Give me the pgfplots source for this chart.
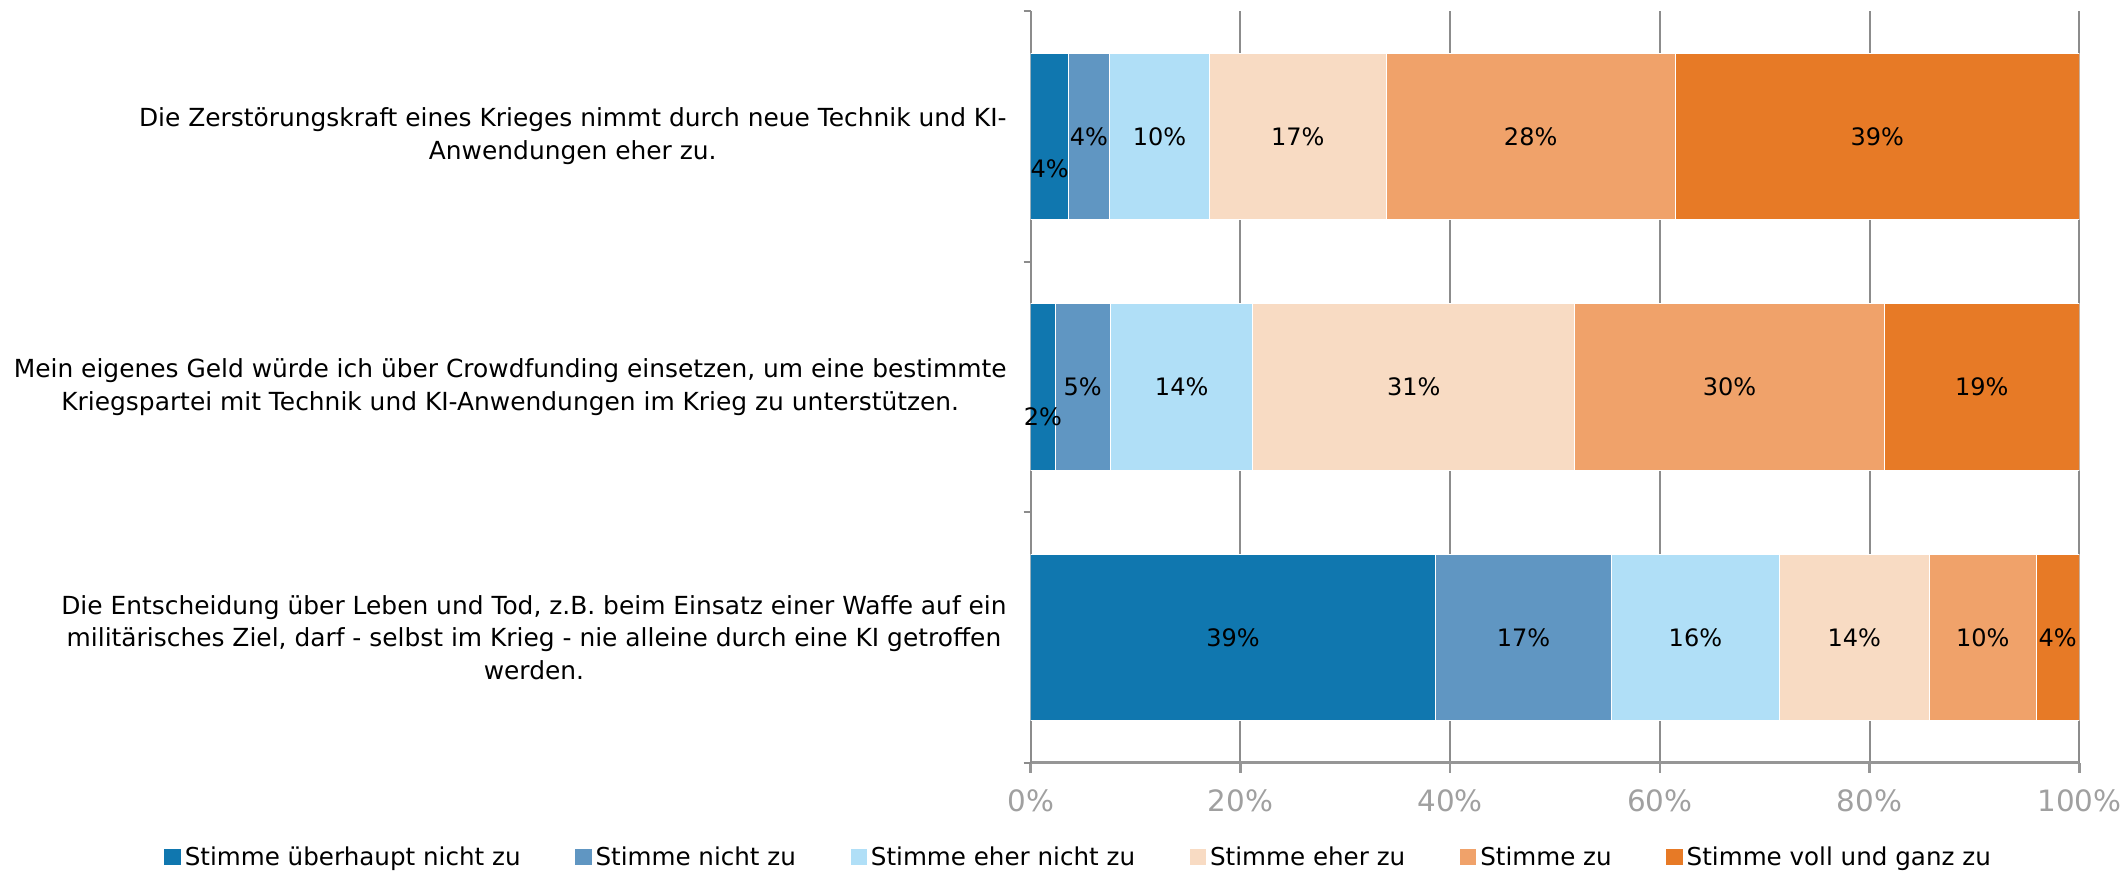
\documentclass[border=0pt]{standalone}
\usepackage{fontspec}
\setmainfont{DejaVu Sans}
\usepackage{pgfplots}
\usepackage{pgfplotstable}
\pgfplotsset{compat=1.18}
\definecolor{cA}{RGB}{16,119,175}
\definecolor{cB}{RGB}{96,150,194}
\definecolor{cC}{RGB}{176,223,247}
\definecolor{cD}{RGB}{248,219,195}
\definecolor{cE}{RGB}{240,162,106}
\definecolor{cF}{RGB}{231,122,38}
\definecolor{gridgray}{RGB}{140,140,140}
\definecolor{axgray}{RGB}{150,150,150}
\definecolor{tickgray}{RGB}{160,160,160}

\pgfplotstableread{
y x dy
2 3.64 -16
1 2.33 -15
0 38.6 0
}\sA
\pgfplotstableread{
y x dy
2 3.84 0
1 5.28 0
0 16.8 0
}\sB
\pgfplotstableread{
y x dy
2 9.6 0
1 13.58 0
0 15.98 0
}\sC
\pgfplotstableread{
y x dy
2 16.8 0
1 30.67 0
0 14.33 0
}\sD
\pgfplotstableread{
y x dy
2 27.6 0
1 29.55 0
0 10.15 0
}\sE
\pgfplotstableread{
y x dy
2 38.52 0
1 18.59 0
0 4.14 0
}\sF

\pgfplotsset{
  seglabels/.style={
    point meta=explicit,
    visualization depends on={\thisrow{dy} \as \ldy},
    nodes near coords={\pgfmathprintnumber[fixed,precision=0]{\pgfplotspointmeta}\%},
    every node near coord/.append style={anchor=center, text=black,
      font=\fontsize{12}{14}\selectfont, yshift={\ldy*1pt}},
  },
}

\begin{document}
\begin{tikzpicture}
\begin{axis}[
  scale only axis, width=524.5pt, height=376pt,
  xbar stacked, bar width=0.663,
  xmin=0, xmax=100, ymin=-0.5, ymax=2.5,
  axis lines=left, axis line style={-},
  x axis line style={draw=axgray, line width=1.3pt},
  y axis line style={draw=gridgray, line width=1pt},
  tick align=outside,
  major tick length=5pt, minor tick length=3.5pt,
  xtick={0,20,40,60,80,100},
  xticklabels={0\%,20\%,40\%,60\%,80\%,100\%},
  xtick style={draw=axgray, line width=1.3pt},
  xmajorgrids, grid style={draw=gridgray, line width=1pt},
  ytick={0,1,2},
  yticklabels={{Die Entscheidung über Leben und Tod, z.B. beim Einsatz einer Waffe auf ein\\militärisches Ziel, darf - selbst im Krieg - nie alleine durch eine KI getroffen\\werden.},
    {Mein eigenes Geld würde ich über Crowdfunding einsetzen, um eine bestimmte\\Kriegspartei mit Technik und KI-Anwendungen im Krieg zu unterstützen.},
    {Die Zerstörungskraft eines Krieges nimmt durch neue Technik und KI-\\Anwendungen eher zu.}},
  minor ytick={-0.5,0.5,1.5,2.5},
  major y tick style={draw=none},
  minor y tick style={draw=gridgray, line width=1pt},
  xticklabel style={font=\fontsize{14.7}{17}\selectfont, text=tickgray, yshift=-5pt},
  yticklabel style={font=\fontsize{12.45}{16.35}\selectfont, align=center, text=black, xshift=-3.5pt},
  /pgf/number format/assume math mode=true,
  legend columns=6,
  legend style={draw=none, fill=none, at={(0.0467,-0.126)}, anchor=center,
    font=\fontsize{12.3}{15}\selectfont,
    /tikz/every even column/.append style={column sep=25.3pt}},
  legend image code/.code={\fill[#1,draw=none] (0pt,-3.9pt) rectangle (8.2pt,4.1pt);},
  legend cell align=left,
]
\addplot[fill=cA, draw=white, line width=0.4pt, seglabels] table[x=x,y=y,meta=x]{\sA};
\addlegendentry{Stimme überhaupt nicht zu}
\addplot[fill=cB, draw=white, line width=0.4pt, seglabels] table[x=x,y=y,meta=x]{\sB};
\addlegendentry{Stimme nicht zu}
\addplot[fill=cC, draw=white, line width=0.4pt, seglabels] table[x=x,y=y,meta=x]{\sC};
\addlegendentry{Stimme eher nicht zu}
\addplot[fill=cD, draw=white, line width=0.4pt, seglabels] table[x=x,y=y,meta=x]{\sD};
\addlegendentry{Stimme eher zu}
\addplot[fill=cE, draw=white, line width=0.4pt, seglabels] table[x=x,y=y,meta=x]{\sE};
\addlegendentry{Stimme zu}
\addplot[fill=cF, draw=white, line width=0.4pt, seglabels] table[x=x,y=y,meta=x]{\sF};
\addlegendentry{Stimme voll und ganz zu}
\end{axis}
\path (current axis.south west) ++(-515.5pt,-55.5pt) rectangle ++(1064pt,437pt);
\end{tikzpicture}
\end{document}
